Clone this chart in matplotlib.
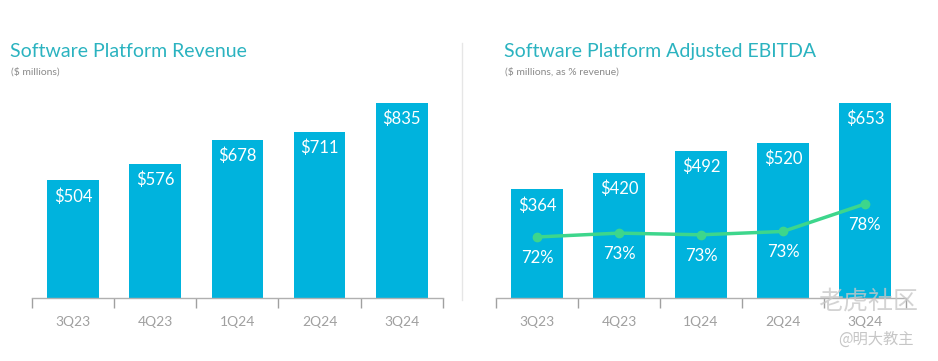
import matplotlib.pyplot as plt
import numpy as np

# Data
quarters = ["3Q23", "4Q23", "1Q24", "2Q24", "3Q24"]
revenue = [504, 576, 678, 711, 835]
ebitda = [364, 420, 492, 520, 653]
ebitda_margin = [72.2, 72.9, 72.6, 73.2, 78.2]

bar_color = "#00b3dd"
line_color = "#3dd68c"
title_color = "#2bb3c0"
tick_color = "#a0a0a0"

plt.rcParams['font.family'] = ['Lato', 'DejaVu Sans']

fig = plt.figure(figsize=(9.38, 3.61), dpi=100)
x = np.arange(len(quarters))


def style_axis(ax, ymax):
    ax.set_xlim(-0.5, len(quarters) - 0.5)
    ax.set_ylim(0, ymax)
    for s in ["top", "right", "left"]:
        ax.spines[s].set_visible(False)
    ax.spines["bottom"].set_color("#b0b0b0")
    ax.spines["bottom"].set_linewidth(1.0)
    ax.set_yticks([])
    ax.set_xticks(x)
    ax.set_xticklabels(quarters, color=tick_color, fontsize=10)
    ax.tick_params(axis="x", which="major", length=0, pad=13)
    ax.set_xticks(np.arange(len(quarters) + 1) - 0.5, minor=True)
    ax.tick_params(axis="x", which="minor", length=7, color="#a0a0a0", width=1.0, direction="out")


# Left panel: revenue
ax1 = fig.add_axes([0.0341, 0.1745, 0.438, 0.562])
ax1.bar(x, revenue, width=0.63, color=bar_color)
style_axis(ax1, 869)
for xi, v in zip(x, revenue):
    ax1.text(xi, v - 16 * 869 / 203, f"${v}", ha="center", va="center", color="white", fontsize=12)

# Right panel: EBITDA
ax2 = fig.add_axes([0.5288, 0.1745, 0.437, 0.562])
ax2.bar(x, ebitda, width=0.63, color=bar_color)
style_axis(ax2, 680)
for xi, v in zip(x, ebitda):
    ax2.text(xi, v - 16 * 680 / 203, f"${v}", ha="center", va="center", color="white", fontsize=12)

ax3 = ax2.twinx()
ax3.set_ylim(61.1, 98.0)
ax3.plot(x, ebitda_margin, color=line_color, lw=2.5, marker="o", ms=6, zorder=3)
ax3.axis("off")
for xi, m in zip(x, ebitda_margin):
    ax3.text(xi, m - 21 / 5.5, f"{m:.0f}%", ha="center", va="center", color="white", fontsize=12)

# Titles
fig.text(0.0107, 0.858, "Software Platform Revenue", color=title_color, fontsize=14, ha="left", va="center")
fig.text(0.0117, 0.8, "($ millions)", color="#8a8a8a", fontsize=7.5, ha="left", va="center")
fig.text(0.537, 0.858, "Software Platform Adjusted EBITDA", color=title_color, fontsize=14, ha="left", va="center")
fig.text(0.538, 0.8, "($ millions, as % revenue)", color="#8a8a8a", fontsize=7.5, ha="left", va="center")

# Divider
fig.add_artist(plt.Line2D([0.4925, 0.4925], [0.17, 0.88], color="#e6e6e6", lw=1.0))

# Watermark
fig.text(0.872, 0.165, "老虎社区", color="#c8c8c8", fontsize=18, ha="left", va="center",
         family=["Noto Sans CJK SC", "DejaVu Sans"], alpha=0.8)
fig.text(0.893, 0.06, "@明大教主", color="#b8b8b8", fontsize=11, ha="left", va="center",
         family=["Noto Sans CJK SC", "DejaVu Sans"], alpha=0.8)

fig.savefig("out.png", dpi=100)
